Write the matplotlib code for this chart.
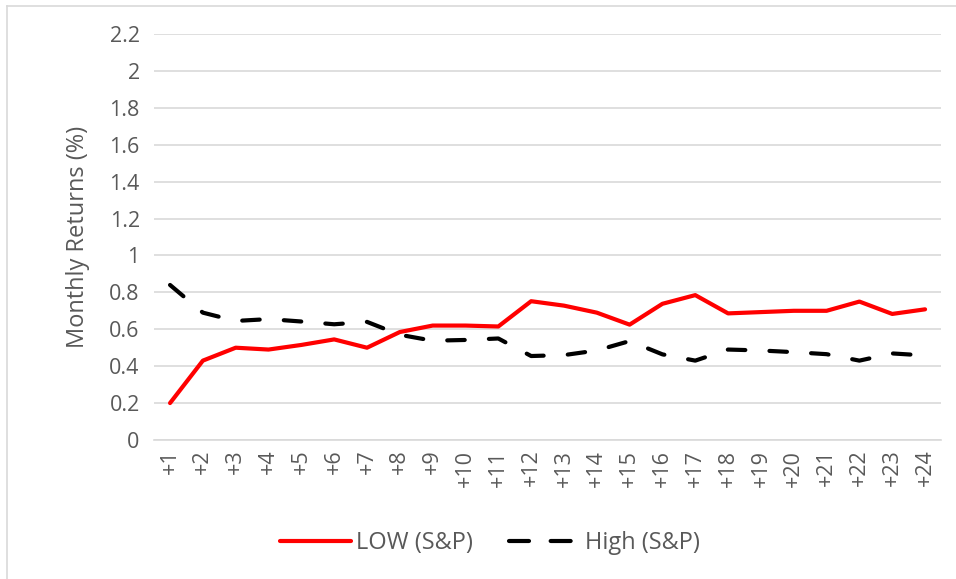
import matplotlib
matplotlib.use("Agg")
import matplotlib.pyplot as plt
from matplotlib.lines import Line2D

# months after portfolio formation
months = list(range(1, 25))
month_labels = [f"+{m}" for m in months]

low_sp = [0.20, 0.43, 0.50, 0.49, 0.515, 0.545, 0.50, 0.585, 0.62, 0.62, 0.615, 0.752,
          0.728, 0.69, 0.625, 0.738, 0.785, 0.686, 0.693, 0.70, 0.70, 0.75, 0.683, 0.708]
high_sp = [0.84, 0.69, 0.645, 0.655, 0.642, 0.627, 0.64, 0.57, 0.538, 0.542, 0.55, 0.455,
           0.46, 0.485, 0.536, 0.464, 0.43, 0.49, 0.485, 0.476, 0.465, 0.43, 0.469, 0.458]

yticks = [0, 0.2, 0.4, 0.6, 0.8, 1, 1.2, 1.4, 1.6, 1.8, 2, 2.2]
ytick_labels = ["0", "0.2", "0.4", "0.6", "0.8", "1", "1.2", "1.4", "1.6", "1.8", "2", "2.2"]

plt.rcParams['font.family'] = ['Open Sans', 'DejaVu Sans']
text_color = '#595959'
grid_color = '#d9d9d9'

fig = plt.figure(figsize=(9.56, 5.79), dpi=100)
ax = fig.add_axes([0.1607, 0.2401, 0.8241, 0.7012])

ax.plot(months, low_sp, color='#ff0000', lw=3.0, solid_capstyle='round',
        solid_joinstyle='round', label='LOW (S&P)', zorder=3)
ax.plot(months, high_sp, color='black', lw=3.0, dashes=(4.2, 5.8),
        dash_capstyle='round', dash_joinstyle='round', label='High (S&P)', zorder=3)

ax.set_xlim(0.5, 24.5)
ax.set_ylim(0, 2.2)
ax.set_yticks(yticks)
ax.set_yticklabels(ytick_labels)
ax.set_xticks(months)
ax.set_xticklabels(month_labels, rotation=90, va='top')

ax.grid(axis='y', color=grid_color, lw=1.2)
ax.set_axisbelow(True)
for side in ['top', 'right', 'left']:
    ax.spines[side].set_visible(False)
ax.spines['bottom'].set_color(grid_color)
ax.spines['bottom'].set_linewidth(1.2)
ax.tick_params(axis='both', length=0, labelsize=15.5, colors=text_color)
ax.tick_params(axis='y', pad=10)
ax.tick_params(axis='x', pad=7)

ax.set_ylabel('Monthly Returns (%)', fontsize=17, color=text_color, labelpad=14)

# legend below the category axis
handles = [
    Line2D([], [], color='#ff0000', lw=3.0, solid_capstyle='round'),
    Line2D([], [], color='black', lw=3.0, dashes=(4.8, 5.2), dash_capstyle='round'),
]
fig.legend(handles, ['LOW (S&P)', 'High (S&P)'], loc='center',
           bbox_to_anchor=(490 / 956, 1 - 543 / 579), ncol=2, frameon=False,
           fontsize=17, labelcolor=text_color, handlelength=3.0,
           handletextpad=0.25, columnspacing=1.5)

# thin chart border along the top and left edges
fig.add_artist(Line2D([7 / 956, 1], [1 - 5.5 / 579, 1 - 5.5 / 579], color=grid_color, lw=1.2))
fig.add_artist(Line2D([7 / 956, 7 / 956], [0, 1 - 5.5 / 579], color=grid_color, lw=1.2))

fig.savefig('out.png', dpi=100, facecolor='white')
